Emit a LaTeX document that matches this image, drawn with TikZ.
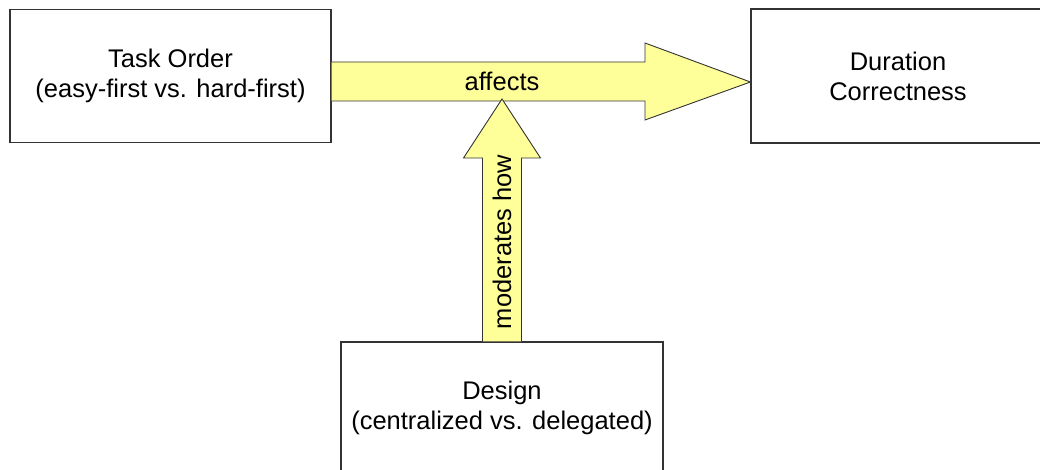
\documentclass[tikz,border=0pt]{standalone}
\usepackage{fontspec}
\setmainfont{Liberation Sans}
\usetikzlibrary{calc}
\begin{document}
\begin{tikzpicture}[x=1pt,y=-1pt,
  box/.style={draw=black!80,line width=1.2pt,fill=white,inner sep=0pt,align=center,
    font=\fontsize{25.5}{30}\selectfont},
  blockarrow/.style={draw=black!80,line width=0.9pt,fill=arrowyellow,line join=miter},
  lbl/.style={font=\fontsize{25.5}{30}\selectfont,inner sep=0pt}]
\definecolor{arrowyellow}{RGB}{255,255,153}
\clip (0,0) rectangle (1040,470);
\fill[white] (0,0) rectangle (1040,470);
\node[box,minimum width=321pt,minimum height=133pt] (task) at (170.5,76) {Task Order\\(easy-first vs. hard-first)};
\node[box,minimum width=294pt,minimum height=134pt] (dur) at (898,76) {Duration\\Correctness};
\node[box,minimum width=322pt,minimum height=132pt] (design) at (502,408) {Design\\(centralized vs. delegated)};
% horizontal block arrow
\coordinate (hs) at (task.east |- 0,81.5);
\coordinate (ht) at (dur.west |- 0,82);
\draw[blockarrow] ($(hs)+(0,-19.5)$) -- (645,62) -- (645,43) -- (ht) -- (645,120) -- (645,101) -- ($(hs)+(0,19.5)$);
\node[lbl] (affects) at (502,81) {affects};
% vertical block arrow
\coordinate (vt) at (502,99);
\coordinate (vs) at (design.north);
\draw[blockarrow] ($(vs)+(-19.5,0)$) -- (482.5,158) -- (463.5,158) -- (vt) -- (540.5,158) -- (521.5,158) -- ($(vs)+(19.5,0)$);
\node[lbl,rotate=90] (mod) at (502,242) {moderates how};
\end{tikzpicture}
\end{document}
